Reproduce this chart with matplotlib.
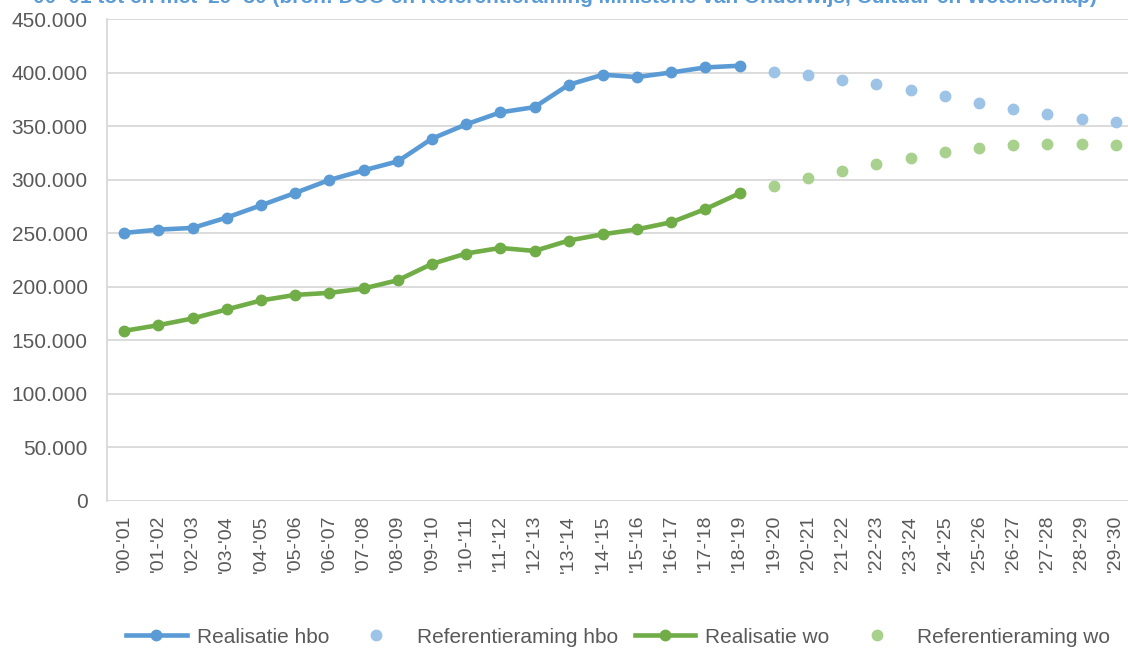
import matplotlib
matplotlib.use("Agg")
import matplotlib.pyplot as plt
from matplotlib.ticker import FuncFormatter, MultipleLocator

plt.rcParams['font.family'] = ['Liberation Sans', 'DejaVu Sans']

years = ["'00-'01", "'01-'02", "'02-'03", "'03-'04", "'04-'05", "'05-'06",
         "'06-'07", "'07-'08", "'08-'09", "'09-'10", "'10-'11", "'11-'12",
         "'12-'13", "'13-'14", "'14-'15", "'15-'16", "'16-'17", "'17-'18",
         "'18-'19", "'19-'20", "'20-'21", "'21-'22", "'22-'23", "'23-'24",
         "'24-'25", "'25-'26", "'26-'27", "'27-'28", "'28-'29", "'29-'30"]

real_hbo = [250500, 253600, 255200, 264900, 276300, 287900, 300000, 309000,
            317400, 338600, 352000, 363200, 368100, 389000, 398400, 396200,
            400500, 405200, 406800]
raming_hbo = [401200, 397700, 393300, 389300, 384000, 378100, 371900,
              366000, 361300, 357300, 353800]

real_wo = [159000, 164300, 170600, 179000, 187400, 192600, 194500, 198600,
           206300, 221600, 231300, 236500, 233700, 243400, 249300, 253900,
           260500, 272900, 287600]
raming_wo = [294100, 301600, 308400, 314900, 320900, 325800, 330200,
             332400, 333600, 333300, 332400]

# titel valt in het origineel half buiten beeld
title = ("'00-'01 tot en met '29-'30 (bron: DUO en Referentieraming "
         "Ministerie van Onderwijs, Cultuur en Wetenschap)")

grey = '#595959'
grid = '#D9D9D9'

fig = plt.figure(figsize=(11.28, 6.52), dpi=100)
ax = fig.add_axes([0.0949, 0.2316, 0.9095, 0.7385])

n_real = len(real_hbo)
x_real = list(range(n_real))
x_ram = list(range(n_real, n_real + len(raming_hbo)))

ax.plot(x_real, real_hbo, color='#5B9BD5', lw=3.3, marker='o', ms=7.5,
        label='Realisatie hbo', zorder=3)
ax.plot(x_ram, raming_hbo, color='#9DC3E6', lw=0, marker='o', ms=7.5,
        label='Referentieraming hbo', zorder=3)
ax.plot(x_real, real_wo, color='#70AD47', lw=3.3, marker='o', ms=7.5,
        label='Realisatie wo', zorder=3)
ax.plot(x_ram, raming_wo, color='#A9D18E', lw=0, marker='o', ms=7.5,
        label='Referentieraming wo', zorder=3)

ax.set_xlim(-0.5, len(years) - 0.5)
ax.set_ylim(0, 450000)
ax.yaxis.set_major_locator(MultipleLocator(50000))
ax.yaxis.set_major_formatter(FuncFormatter(lambda v, p: f"{int(v):,}".replace(',', '.')))
ax.set_xticks(range(len(years)))
ax.set_xticklabels(years, rotation=90)

ax.tick_params(axis='x', length=0, pad=10, labelsize=14, labelcolor=grey)
ax.tick_params(axis='y', length=0, pad=14, labelsize=15, labelcolor=grey)
ax.grid(axis='y', color=grid, lw=1.3)
ax.set_axisbelow(True)
for s in ['top', 'right', 'bottom']:
    ax.spines[s].set_visible(False)
ax.spines['left'].set_color(grid)
ax.spines['left'].set_linewidth(1.3)

leg = fig.legend(loc='center', bbox_to_anchor=(0.548, 0.023), ncol=4,
                 frameon=False, fontsize=15, handlelength=2.9,
                 handletextpad=0.5, columnspacing=0.8)
for t in leg.get_texts():
    t.set_color(grey)

fig.text(1097 / 1128, 1 - 3 / 652, title, ha='right', va='baseline',
         fontsize=15, fontweight='bold', color='#5B9BD5')

fig.savefig('out.png', dpi=100)
